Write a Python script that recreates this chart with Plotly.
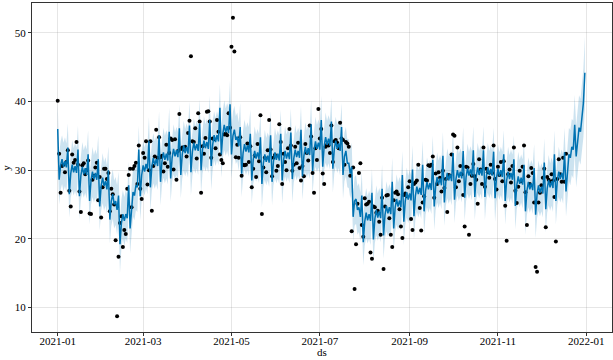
import pandas as pd
import plotly.graph_objects as go

START = "2021-01-01"

# Forecast (one value per day, 2021-01-01 .. 2021-12-31), one week per line
yhat = [
    36.0, 28.6, 30.7, 31.6, 30.5, 31.3, 30.4,
    33.3, 26.5, 29.5, 30.8, 29.7, 30.6, 29.6,
    33.0, 26.2, 29.2, 30.5, 29.4, 30.3, 29.3,
    32.3, 25.5, 28.5, 29.8, 28.7, 29.6, 28.6,
    31.6, 24.7, 27.7, 28.9, 27.7, 28.4, 27.2,
    30.0, 22.8, 25.5, 26.5, 25.0, 25.5, 24.2,
    26.3, 19.2, 22.3, 23.6, 22.6, 23.6, 23.0,
    27.8, 21.5, 25.0, 26.8, 26.3, 27.8, 27.5,
    33.0, 26.2, 29.3, 30.7, 29.8, 30.9, 30.1,
    34.3, 27.5, 30.5, 31.8, 30.7, 31.6, 30.6,
    35.1, 28.3, 31.3, 32.6, 31.5, 32.4, 31.4,
    35.6, 28.8, 31.8, 33.1, 32.0, 32.9, 31.9,
    36.1, 29.3, 32.3, 33.6, 32.5, 33.4, 32.4,
    36.5, 29.7, 32.7, 34.0, 32.9, 33.8, 32.8,
    36.8, 30.0, 33.0, 34.3, 33.2, 34.1, 33.1,
    37.3, 30.6, 33.7, 35.1, 34.1, 35.1, 34.2,
    39.1, 32.3, 35.3, 36.6, 35.5, 36.4, 35.4,
    39.6, 32.3, 35.0, 35.9, 34.4, 34.9, 33.5,
    36.3, 29.5, 32.5, 33.8, 32.7, 33.6, 32.6,
    35.3, 28.5, 31.5, 32.8, 31.7, 32.6, 31.6,
    34.8, 28.0, 31.0, 32.3, 31.2, 32.1, 31.1,
    35.1, 28.3, 31.3, 32.6, 31.5, 32.4, 31.4,
    35.3, 28.5, 31.5, 32.8, 31.7, 32.6, 31.6,
    35.5, 28.7, 31.7, 33.0, 31.9, 32.8, 31.8,
    35.9, 29.1, 32.1, 33.4, 32.3, 33.2, 32.2,
    36.7, 29.9, 32.9, 34.2, 33.1, 34.0, 33.0,
    37.3, 30.5, 33.5, 34.8, 33.7, 34.6, 33.6,
    37.1, 30.2, 33.1, 34.3, 33.1, 33.9, 32.8,
    36.3, 29.3, 32.0, 32.8, 31.0, 31.0, 29.5,
    30.5, 23.2, 25.5, 25.8, 24.2, 24.6, 23.2,
    26.3, 19.5, 22.5, 23.8, 22.7, 23.6, 22.6,
    26.7, 19.9, 22.9, 24.2, 23.1, 24.0, 23.0,
    27.3, 20.5, 23.5, 24.8, 23.7, 24.6, 23.6,
    28.3, 21.5, 24.5, 25.8, 24.7, 25.6, 24.6,
    29.3, 22.5, 25.5, 26.8, 25.7, 26.6, 25.6,
    30.1, 23.3, 26.3, 27.6, 26.5, 27.4, 26.4,
    30.8, 24.0, 27.0, 28.3, 27.2, 28.1, 27.1,
    31.5, 24.7, 27.7, 29.0, 27.9, 28.8, 27.8,
    32.1, 25.3, 28.3, 29.6, 28.5, 29.4, 28.4,
    32.5, 25.7, 28.7, 30.0, 28.9, 29.8, 28.8,
    32.8, 26.0, 29.0, 30.3, 29.2, 30.1, 29.1,
    32.9, 26.1, 29.1, 30.4, 29.3, 30.2, 29.2,
    32.9, 26.1, 29.1, 30.4, 29.3, 30.2, 29.2,
    32.7, 25.9, 28.9, 30.2, 29.1, 30.0, 29.0,
    32.3, 25.5, 28.5, 29.8, 28.7, 29.6, 28.6,
    31.6, 24.8, 27.8, 29.1, 28.0, 28.9, 27.9,
    30.8, 24.0, 27.0, 28.3, 27.2, 28.1, 27.1,
    30.3, 23.5, 26.5, 27.8, 26.7, 27.6, 26.6,
    31.1, 24.3, 27.3, 28.6, 27.5, 28.4, 27.4,
    32.3, 25.5, 28.5, 29.8, 28.7, 29.6, 28.6,
    32.6, 26.9, 30.5, 32.3, 31.8, 33.4, 33.0,
    36.6, 32.0, 34.5, 36.2, 35.6, 37.4, 39.8,
    44.2,
]

yhat_lower = [
    32.2, 25.0, 27.1, 28.0, 26.9, 27.7, 26.8,
    29.7, 23.1, 26.0, 27.1, 26.3, 27.0, 26.1,
    29.4, 22.8, 25.7, 26.8, 26.0, 26.7, 25.8,
    28.7, 22.1, 25.0, 26.1, 25.3, 26.0, 25.1,
    28.0, 21.2, 24.1, 25.2, 24.1, 24.8, 23.6,
    26.4, 19.3, 21.9, 22.9, 21.5, 22.0, 20.6,
    22.7, 15.0, 18.7, 20.0, 19.0, 20.0, 19.4,
    24.2, 17.9, 21.4, 23.2, 22.7, 24.2, 23.9,
    29.4, 22.7, 25.7, 27.0, 26.3, 27.3, 26.5,
    30.7, 24.1, 27.0, 28.1, 27.3, 28.0, 27.1,
    31.5, 24.9, 27.8, 28.9, 28.1, 28.8, 27.9,
    32.0, 25.4, 28.3, 29.4, 28.6, 29.3, 28.4,
    32.5, 25.9, 28.8, 29.9, 29.1, 29.8, 28.9,
    32.9, 26.3, 29.2, 30.3, 29.5, 30.2, 29.3,
    33.2, 26.6, 29.5, 30.6, 29.8, 30.5, 29.6,
    33.7, 27.1, 30.1, 31.4, 30.6, 31.5, 30.7,
    35.5, 28.9, 31.8, 32.9, 32.1, 32.8, 31.9,
    36.0, 28.8, 31.4, 32.2, 30.9, 31.3, 29.9,
    32.7, 26.1, 29.0, 30.1, 29.3, 30.0, 29.1,
    31.7, 25.1, 28.0, 29.1, 28.3, 29.0, 28.1,
    31.2, 24.6, 27.5, 28.6, 27.8, 28.5, 27.6,
    31.5, 24.9, 27.8, 28.9, 28.1, 28.8, 27.9,
    31.7, 25.1, 28.0, 29.1, 28.3, 29.0, 28.1,
    31.9, 25.3, 28.2, 29.3, 28.5, 29.2, 28.3,
    32.3, 25.7, 28.6, 29.7, 28.9, 29.6, 28.7,
    33.1, 26.5, 29.4, 30.5, 29.7, 30.4, 29.5,
    33.7, 27.1, 30.0, 31.1, 30.3, 31.0, 30.1,
    33.5, 26.7, 29.5, 30.6, 29.6, 30.3, 29.2,
    32.7, 25.8, 28.4, 29.1, 27.5, 27.4, 25.9,
    26.9, 19.6, 21.9, 22.2, 20.6, 21.0, 19.6,
    22.7, 16.1, 19.0, 20.1, 19.3, 20.0, 19.1,
    23.1, 16.5, 19.4, 20.5, 19.7, 20.4, 19.5,
    23.7, 17.1, 20.0, 21.1, 20.3, 21.0, 20.1,
    24.7, 18.1, 21.0, 22.1, 21.3, 22.0, 21.1,
    25.7, 19.1, 22.0, 23.1, 22.3, 23.0, 22.1,
    26.5, 19.9, 22.8, 23.9, 23.1, 23.8, 22.9,
    27.2, 20.6, 23.5, 24.6, 23.8, 24.5, 23.6,
    27.9, 21.3, 24.2, 25.3, 24.5, 25.2, 24.3,
    28.5, 21.9, 24.8, 25.9, 25.1, 25.8, 24.9,
    28.9, 22.3, 25.2, 26.3, 25.5, 26.2, 25.3,
    29.2, 22.6, 25.5, 26.6, 25.8, 26.5, 25.6,
    29.3, 22.7, 25.6, 26.7, 25.9, 26.6, 25.7,
    29.3, 22.7, 25.6, 26.7, 25.9, 26.6, 25.7,
    29.1, 22.5, 25.4, 26.5, 25.7, 26.4, 25.5,
    28.7, 22.1, 25.0, 26.1, 25.3, 26.0, 25.1,
    28.0, 21.4, 24.3, 25.4, 24.6, 25.3, 24.4,
    27.2, 20.6, 23.5, 24.6, 23.8, 24.5, 23.6,
    26.7, 20.1, 23.0, 24.1, 23.3, 24.0, 23.1,
    27.5, 20.9, 23.8, 24.9, 24.1, 24.8, 23.9,
    28.7, 22.1, 25.0, 26.1, 25.3, 26.0, 25.1,
    29.0, 23.2, 26.7, 28.4, 27.8, 29.3, 28.8,
    32.2, 27.5, 29.9, 31.5, 30.8, 32.5, 34.8,
    38.9,
]

yhat_upper = [
    39.8, 32.3, 34.2, 35.1, 34.0, 34.8, 33.9,
    36.8, 30.2, 32.9, 34.4, 33.2, 34.0, 33.3,
    36.5, 29.9, 32.6, 34.1, 32.9, 33.7, 33.0,
    35.8, 29.2, 31.9, 33.4, 32.2, 33.0, 32.3,
    35.1, 28.3, 31.1, 32.5, 31.2, 31.9, 30.7,
    33.5, 26.4, 29.0, 30.1, 28.5, 29.0, 27.8,
    29.8, 22.8, 25.8, 27.1, 26.1, 27.1, 26.5,
    31.3, 25.0, 28.5, 30.3, 29.8, 31.3, 31.0,
    36.5, 29.7, 32.8, 34.2, 33.3, 34.4, 33.6,
    37.8, 31.2, 33.9, 35.4, 34.2, 35.0, 34.3,
    38.6, 32.0, 34.7, 36.2, 35.0, 35.8, 35.1,
    39.1, 32.5, 35.2, 36.7, 35.5, 36.3, 35.6,
    39.6, 33.0, 35.7, 37.2, 36.0, 36.8, 36.1,
    40.0, 33.4, 36.1, 37.6, 36.4, 37.2, 36.5,
    40.3, 33.7, 36.4, 37.9, 36.7, 37.5, 36.8,
    40.8, 34.1, 37.2, 38.6, 37.6, 38.6, 37.7,
    42.6, 36.0, 38.7, 40.2, 39.0, 39.8, 39.1,
    43.2, 35.9, 38.5, 39.4, 37.9, 38.4, 37.0,
    39.8, 33.2, 35.9, 37.4, 36.2, 37.0, 36.3,
    38.8, 32.2, 34.9, 36.4, 35.2, 36.0, 35.3,
    38.3, 31.7, 34.4, 35.9, 34.7, 35.5, 34.8,
    38.6, 32.0, 34.7, 36.2, 35.0, 35.8, 35.1,
    38.8, 32.2, 34.9, 36.4, 35.2, 36.0, 35.3,
    39.0, 32.4, 35.1, 36.6, 35.4, 36.2, 35.5,
    39.4, 32.8, 35.5, 37.0, 35.8, 36.6, 35.9,
    40.2, 33.6, 36.3, 37.8, 36.6, 37.4, 36.7,
    40.8, 34.2, 36.9, 38.4, 37.2, 38.0, 37.3,
    40.6, 33.7, 36.6, 37.8, 36.6, 37.4, 36.3,
    39.8, 32.8, 35.5, 36.3, 34.5, 34.5, 33.0,
    34.0, 26.8, 29.0, 29.3, 27.7, 28.1, 26.7,
    29.8, 23.2, 25.9, 27.4, 26.2, 27.0, 26.3,
    30.2, 23.6, 26.3, 27.8, 26.6, 27.4, 26.7,
    30.8, 24.2, 26.9, 28.4, 27.2, 28.0, 27.3,
    31.8, 25.2, 27.9, 29.4, 28.2, 29.0, 28.3,
    32.8, 26.2, 28.9, 30.4, 29.2, 30.0, 29.3,
    33.6, 27.0, 29.7, 31.2, 30.0, 30.8, 30.1,
    34.3, 27.7, 30.4, 31.9, 30.7, 31.5, 30.8,
    35.0, 28.4, 31.1, 32.6, 31.4, 32.2, 31.5,
    35.6, 29.0, 31.7, 33.2, 32.0, 32.8, 32.1,
    36.0, 29.4, 32.1, 33.6, 32.4, 33.2, 32.5,
    36.3, 29.7, 32.4, 33.9, 32.7, 33.5, 32.8,
    36.4, 29.8, 32.5, 34.0, 32.8, 33.6, 32.9,
    36.4, 29.8, 32.5, 34.0, 32.8, 33.6, 32.9,
    36.2, 29.6, 32.3, 33.8, 32.6, 33.4, 32.7,
    35.8, 29.2, 31.9, 33.4, 32.2, 33.0, 32.3,
    35.1, 28.5, 31.2, 32.7, 31.5, 32.3, 31.6,
    34.3, 27.7, 30.4, 31.9, 30.7, 31.5, 30.8,
    33.8, 27.2, 29.9, 31.4, 30.2, 31.0, 30.3,
    34.6, 28.0, 30.7, 32.2, 31.0, 31.8, 31.1,
    35.8, 29.2, 31.9, 33.4, 32.2, 33.0, 32.3,
    36.2, 30.6, 34.3, 36.2, 35.8, 37.5, 37.2,
    41.0, 36.5, 39.1, 40.9, 40.4, 42.3, 44.8,
    49.5,
]

# Observed values (one per day from 2021-01-01 to 2021-12-18)
y_obs = [
    40.1, 32.4, 26.7, 30.6, 30.8, 29.7, 31.2,
    32.9, 27.0, 24.7, 32.3, 31.1, 31.5, 34.1,
    30.8, 26.9, 23.9, 30.7, 31.0, 29.4, 30.0,
    31.4, 23.7, 23.6, 28.6, 29.2, 30.4, 31.1,
    25.6, 29.0, 23.1, 27.5, 30.2, 30.2, 28.7,
    29.6, 24.0, 27.3, 26.5, 25.0, 19.8, 8.7,
    17.4, 22.3, 23.3, 18.8, 21.3, 20.7, 27.3,
    29.3, 30.2, 24.6, 30.2, 30.6, 31.1, 28.0,
    33.6, 27.3, 25.8, 32.5, 31.8, 34.2, 27.9,
    30.0, 34.2, 24.1, 30.6, 32.0, 35.9, 31.8,
    34.8, 31.9, 32.1, 29.8, 31.0, 33.7, 30.5,
    32.5, 34.6, 34.4, 30.1, 34.5, 28.6, 32.8,
    38.2, 33.1, 33.3, 33.0, 33.4, 32.0, 35.4,
    37.2, 46.6, 34.2, 34.1, 36.1, 31.7, 38.3,
    37.1, 26.7, 33.5, 32.4, 34.7, 38.5, 38.6,
    37.1, 31.8, 34.6, 34.5, 33.2, 37.3, 35.6,
    32.3, 31.5, 31.0, 35.2, 35.3, 35.1, 38.3,
    36.2, 48.0, 52.2, 47.3, 31.9, 33.7, 31.8,
    34.8, 29.2, 30.8, 30.7, 30.8, 33.9, 31.2,
    33.5, 27.5, 30.2, 32.1, 29.0, 33.8, 31.3,
    38.0, 23.6, 30.4, 31.8, 29.7, 32.9, 37.3,
    33.0, 29.1, 31.8, 32.2, 29.9, 30.6, 36.7,
    34.1, 28.0, 32.4, 31.2, 30.0, 33.2, 36.0,
    33.6, 29.9, 30.8, 33.4, 31.0, 34.0, 30.3,
    28.5, 30.6, 29.1, 33.8, 32.5, 31.4, 36.5,
    34.9, 29.6, 26.7, 33.2, 31.5, 38.9, 34.6,
    36.0, 29.5, 28.0, 33.4, 33.7, 33.6, 32.5,
    36.5, 31.2, 34.2, 34.4, 34.0, 33.2, 36.9,
    34.6, 34.4, 30.8, 34.1, 33.9, 33.4, 29.2,
    21.1, 30.4, 12.7, 19.2, 25.1, 29.6, 31.0,
    22.0, 20.3, 25.9, 25.0, 25.1, 25.4, 18.0,
    17.1, 24.7, 24.6, 23.8, 24.1, 22.5, 20.6,
    26.0, 15.6, 24.7, 26.3, 26.4, 23.0, 20.6,
    18.8, 25.6, 26.7, 26.9, 26.5, 24.3, 21.8,
    20.1, 26.4, 26.6, 26.2, 27.5, 28.4, 22.9,
    21.3, 28.0, 28.2, 28.5, 30.8, 24.5, 21.2,
    25.3, 26.2, 28.6, 28.5, 30.7, 30.6, 30.8,
    32.0, 26.0, 29.5, 28.0, 29.7, 28.9, 26.9,
    29.9, 27.4, 28.7, 23.9, 29.3, 29.2, 32.3,
    35.2, 35.0, 27.5, 33.3, 28.4, 30.6, 29.4,
    26.4, 21.8, 30.5, 30.4, 20.6, 28.0, 29.2,
    30.9, 29.1, 28.6, 25.1, 31.6, 30.1, 28.0,
    33.3, 27.6, 30.2, 29.7, 28.9, 30.8, 29.6,
    33.6, 28.7, 27.2, 30.5, 29.3, 31.2, 28.4,
    31.3, 24.8, 19.7, 29.4, 30.1, 28.2, 30.6,
    33.3, 27.0, 25.2, 27.6, 29.9, 28.4, 30.5,
    33.6, 26.8, 22.0, 29.1, 28.0, 30.3, 29.6,
    25.3, 15.9, 15.2, 25.3, 26.7, 27.8, 28.9,
    30.2, 21.7, 29.0, 28.6, 28.3, 29.4, 28.5,
    26.1, 19.6, 28.7, 31.6, 29.4, 28.3, 31.8,
    28.3, 32.4,
]

X_RANGE = ["2020-12-14 06:00", "2022-01-18 18:00"]
Y_RANGE = [6.42, 54.36]
X_TITLE = "ds"
Y_TITLE = "y"

ds = pd.date_range(START, periods=len(yhat), freq="D")
ds_hist = ds[: len(y_obs)]

BLUE = "#0072B2"
FONT = "Liberation Serif, Times New Roman, serif"

fig = go.Figure()
fig.add_trace(go.Scatter(x=ds, y=yhat_upper, mode="lines", line=dict(width=0),
                         hoverinfo="skip", showlegend=False))
fig.add_trace(go.Scatter(x=ds, y=yhat_lower, mode="lines", line=dict(width=0),
                         fill="tonexty", fillcolor="rgba(0,114,178,0.2)",
                         hoverinfo="skip", showlegend=False))
fig.add_trace(go.Scatter(x=ds_hist, y=y_obs, mode="markers",
                         marker=dict(color="black", size=4), showlegend=False))
fig.add_trace(go.Scatter(x=ds, y=yhat, mode="lines",
                         line=dict(color=BLUE, width=1.5), showlegend=False))

axis_common = dict(
    showline=True, linecolor="#333333", linewidth=1, mirror=True,
    showgrid=True, gridcolor="rgba(128,128,128,0.2)", gridwidth=1,
    ticks="outside", ticklen=3, tickcolor="#333333", tickwidth=1,
    zeroline=False, automargin=False,
    tickfont=dict(family=FONT, size=11, color="black"),
)

fig.update_layout(
    template="none",
    width=613, height=360,
    margin=dict(l=32, r=1, t=3, b=28),
    paper_bgcolor="white", plot_bgcolor="white",
    font=dict(family=FONT, size=11, color="black"),
    showlegend=False,
    xaxis=dict(range=X_RANGE, dtick="M2", tickformat="%Y-%m",
               ticklabelstandoff=-4, **axis_common),
    yaxis=dict(range=Y_RANGE, dtick=10, **axis_common),
    annotations=[
        dict(text=X_TITLE, xref="paper", yref="paper", x=0.5, y=-0.061,
             xanchor="center", yanchor="middle", showarrow=False,
             font=dict(family=FONT, size=11, color="black")),
        dict(text=Y_TITLE, xref="paper", yref="paper", x=-0.046, y=0.5,
             xanchor="center", yanchor="middle", showarrow=False, textangle=-90,
             font=dict(family=FONT, size=11, color="black")),
    ],
)

fig.write_html("out.html", config={"displayModeBar": False},
               post_script="document.body.style.margin='0';")
